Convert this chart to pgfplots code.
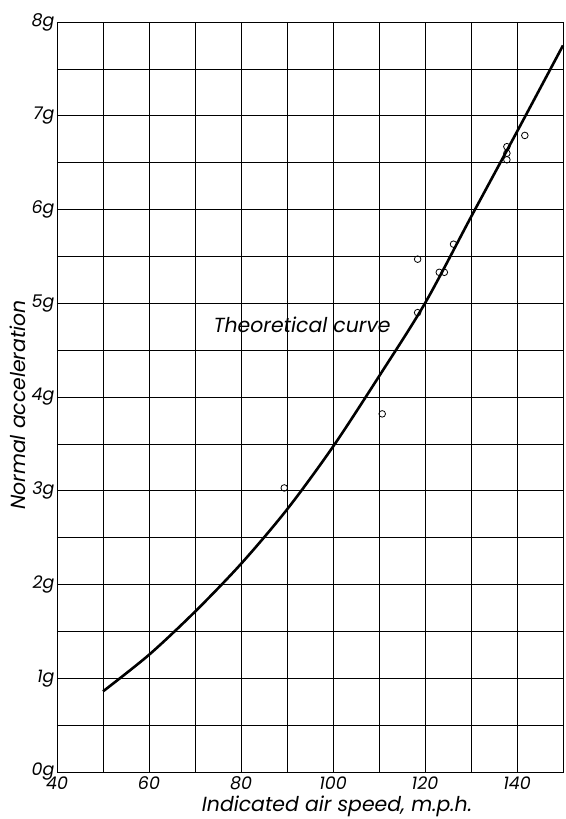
\documentclass[border=0pt]{standalone}
\usepackage{fontspec}
\setmainfont{Poppins}
\usepackage{pgfplots}
\pgfplotsset{compat=1.18}
\begin{document}
\begin{tikzpicture}
\begin{axis}[
  scale only axis,
  width=506bp, height=750bp,
  xmin=40, xmax=150, ymin=0, ymax=8,
  xtick={40,60,80,100,120,140},
  xticklabels={40,60,80,100,120,140},
  minor xtick={50,70,90,110,130,150},
  ytick={0,1,2,3,4,5,6,7,8},
  yticklabels={\raisebox{5bp}{0g},1g,2g,3g,4g,5g,6g,7g,8g},
  minor ytick={0.5,1.5,2.5,3.5,4.5,5.5,6.5,7.5},
  grid=both,
  major grid style={black, line width=0.6bp},
  minor grid style={black, line width=0.6bp},
  axis line style={black, line width=0.9bp},
  major tick length=0pt, minor tick length=0pt,
  font=\fontsize{17.5}{20}\selectfont\itshape,
  ticklabel style={font=\fontsize{17.5}{20}\selectfont\itshape},
  xticklabel style={yshift=-1bp},
  yticklabel style={xshift=1bp},
  xlabel={Indicated air speed, m.p.h.},
  ylabel={Normal acceleration},
  xlabel style={font=\fontsize{20.5}{23}\selectfont\itshape, xshift=27bp, yshift=1bp},
  ylabel style={font=\fontsize{20.5}{23}\selectfont\itshape, yshift=-1bp, xshift=-8bp},
  clip=false,
]
\addplot[black, line width=2.6bp, smooth, tension=0.5] coordinates {
 (50,0.86) (60,1.25) (70,1.71) (80,2.22) (90,2.80) (100,3.47) (110,4.22) (120,5.00) (130,5.92) (140,6.83) (150,7.75)
};
\addplot[only marks, mark=o, mark size=3.3bp, mark options={black, line width=0.8bp, fill=white}] coordinates {
 (89.4,3.03) (110.7,3.82) (118.4,4.90) (118.4,5.47) (123.1,5.33) (124.2,5.33) (126.2,5.63)
 (137.8,6.67) (137.8,6.60) (137.8,6.53) (141.7,6.79)
};
\node[anchor=base east, font=\fontsize{20.5}{23}\selectfont\itshape] at (axis cs:113.3,4.69) {Theoretical curve};
\end{axis}
\pgfresetboundingbox
\path[use as bounding box] (current axis.south west) ++(-57bp,-47bp) rectangle ++(566bp,819bp);
\end{tikzpicture}
\end{document}
